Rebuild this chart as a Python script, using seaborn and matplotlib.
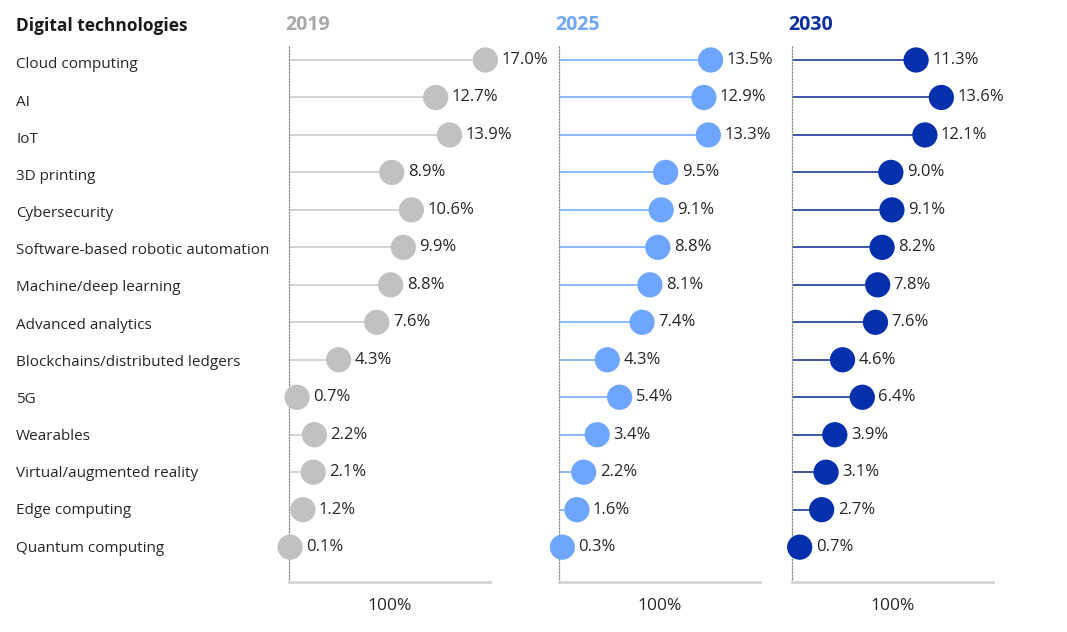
import matplotlib
matplotlib.use("Agg")
import matplotlib.pyplot as plt
import seaborn as sns
import pandas as pd

sns.set_theme(style="white")
plt.rcParams['font.family'] = ['Open Sans', 'DejaVu Sans']

technologies = ["Cloud computing", "AI", "IoT", "3D printing", "Cybersecurity",
                "Software-based robotic automation", "Machine/deep learning",
                "Advanced analytics", "Blockchains/distributed ledgers", "5G",
                "Wearables", "Virtual/augmented reality", "Edge computing",
                "Quantum computing"]
years = ["2019", "2025", "2030"]
v2019 = [17.0, 12.7, 13.9, 8.9, 10.6, 9.9, 8.8, 7.6, 4.3, 0.7, 2.2, 2.1, 1.2, 0.1]
v2025 = [13.5, 12.9, 13.3, 9.5, 9.1, 8.8, 8.1, 7.4, 4.3, 5.4, 3.4, 2.2, 1.6, 0.3]
v2030 = [11.3, 13.6, 12.1, 9.0, 9.1, 8.2, 7.8, 7.6, 4.6, 6.4, 3.9, 3.1, 2.7, 0.7]
series = [v2019, v2025, v2030]
total_label = "100%"

dot_colors = ["#c1c1c1", "#6ea6ff", "#0530ab"]
year_colors = ["#a8a8a8", "#6ea6ff", "#0a2f9e"]
stem_colors = ["#c8c8c8", "#6ea6ff", "#0a2a8a"]
xmax = [17.4, 17.9, 18.3]

W, H = 1067, 632
fig = plt.figure(figsize=(W / 100, H / 100), dpi=100)

lefts = [289, 559, 792]
width_px = 201
top_px, bot_px = 45, 582
ylim = (13.93, -0.40)

for i, (year, vals) in enumerate(zip(years, series)):
    ax = fig.add_axes([lefts[i] / W, 1 - bot_px / H, width_px / W, (bot_px - top_px) / H])
    df = pd.DataFrame({"tech": technologies, "value": vals, "pos": range(len(technologies))})
    ax.hlines(df["pos"], 0, df["value"], color=stem_colors[i], lw=1.1, zorder=1)
    sns.scatterplot(data=df, x="value", y="pos", ax=ax, s=330, color=dot_colors[i],
                    edgecolor="none", zorder=3, legend=False, clip_on=False)
    for p, v in zip(df["pos"], df["value"]):
        ax.annotate(f"{v:.1f}%", (v, p), xytext=(11.5, 0), textcoords="offset points",
                    ha="left", va="center", fontsize=12, color="#262626",
                    annotation_clip=False)
    ax.set_xlim(0, xmax[i])
    ax.set_ylim(*ylim)
    ax.set_xticks([])
    ax.set_yticks([])
    ax.set_xlabel("")
    ax.set_ylabel("")
    for side in ["top", "right"]:
        ax.spines[side].set_visible(False)
    ax.spines["left"].set_linestyle((0, (1, 1.5)))
    ax.spines["left"].set_color("#8c8c8c")
    ax.spines["left"].set_linewidth(0.9)
    ax.spines["bottom"].set_color("#d4d4d4")
    ax.spines["bottom"].set_linewidth(2)
    ax.patch.set_alpha(0)
    ax.text(0.5, -0.03, total_label, transform=ax.transAxes, ha="center", va="top",
            fontsize=12.5, color="#262626")
    fig.text((lefts[i] - 4) / W, 1 - 25 / H, year, ha="left", va="center",
             fontsize=14, fontweight="bold", color=year_colors[i])

fig.text(16 / W, 1 - 26 / H, "Digital technologies", ha="left", va="center",
         fontsize=12.5, fontweight="bold", color="#1a1a1a")
row_px = (547 - 64) / 13
for k, t in enumerate(technologies):
    fig.text(16 / W, 1 - (65 + k * row_px) / H, t, ha="left", va="center",
             fontsize=11, color="#262626")

fig.savefig("out.png", dpi=100)
